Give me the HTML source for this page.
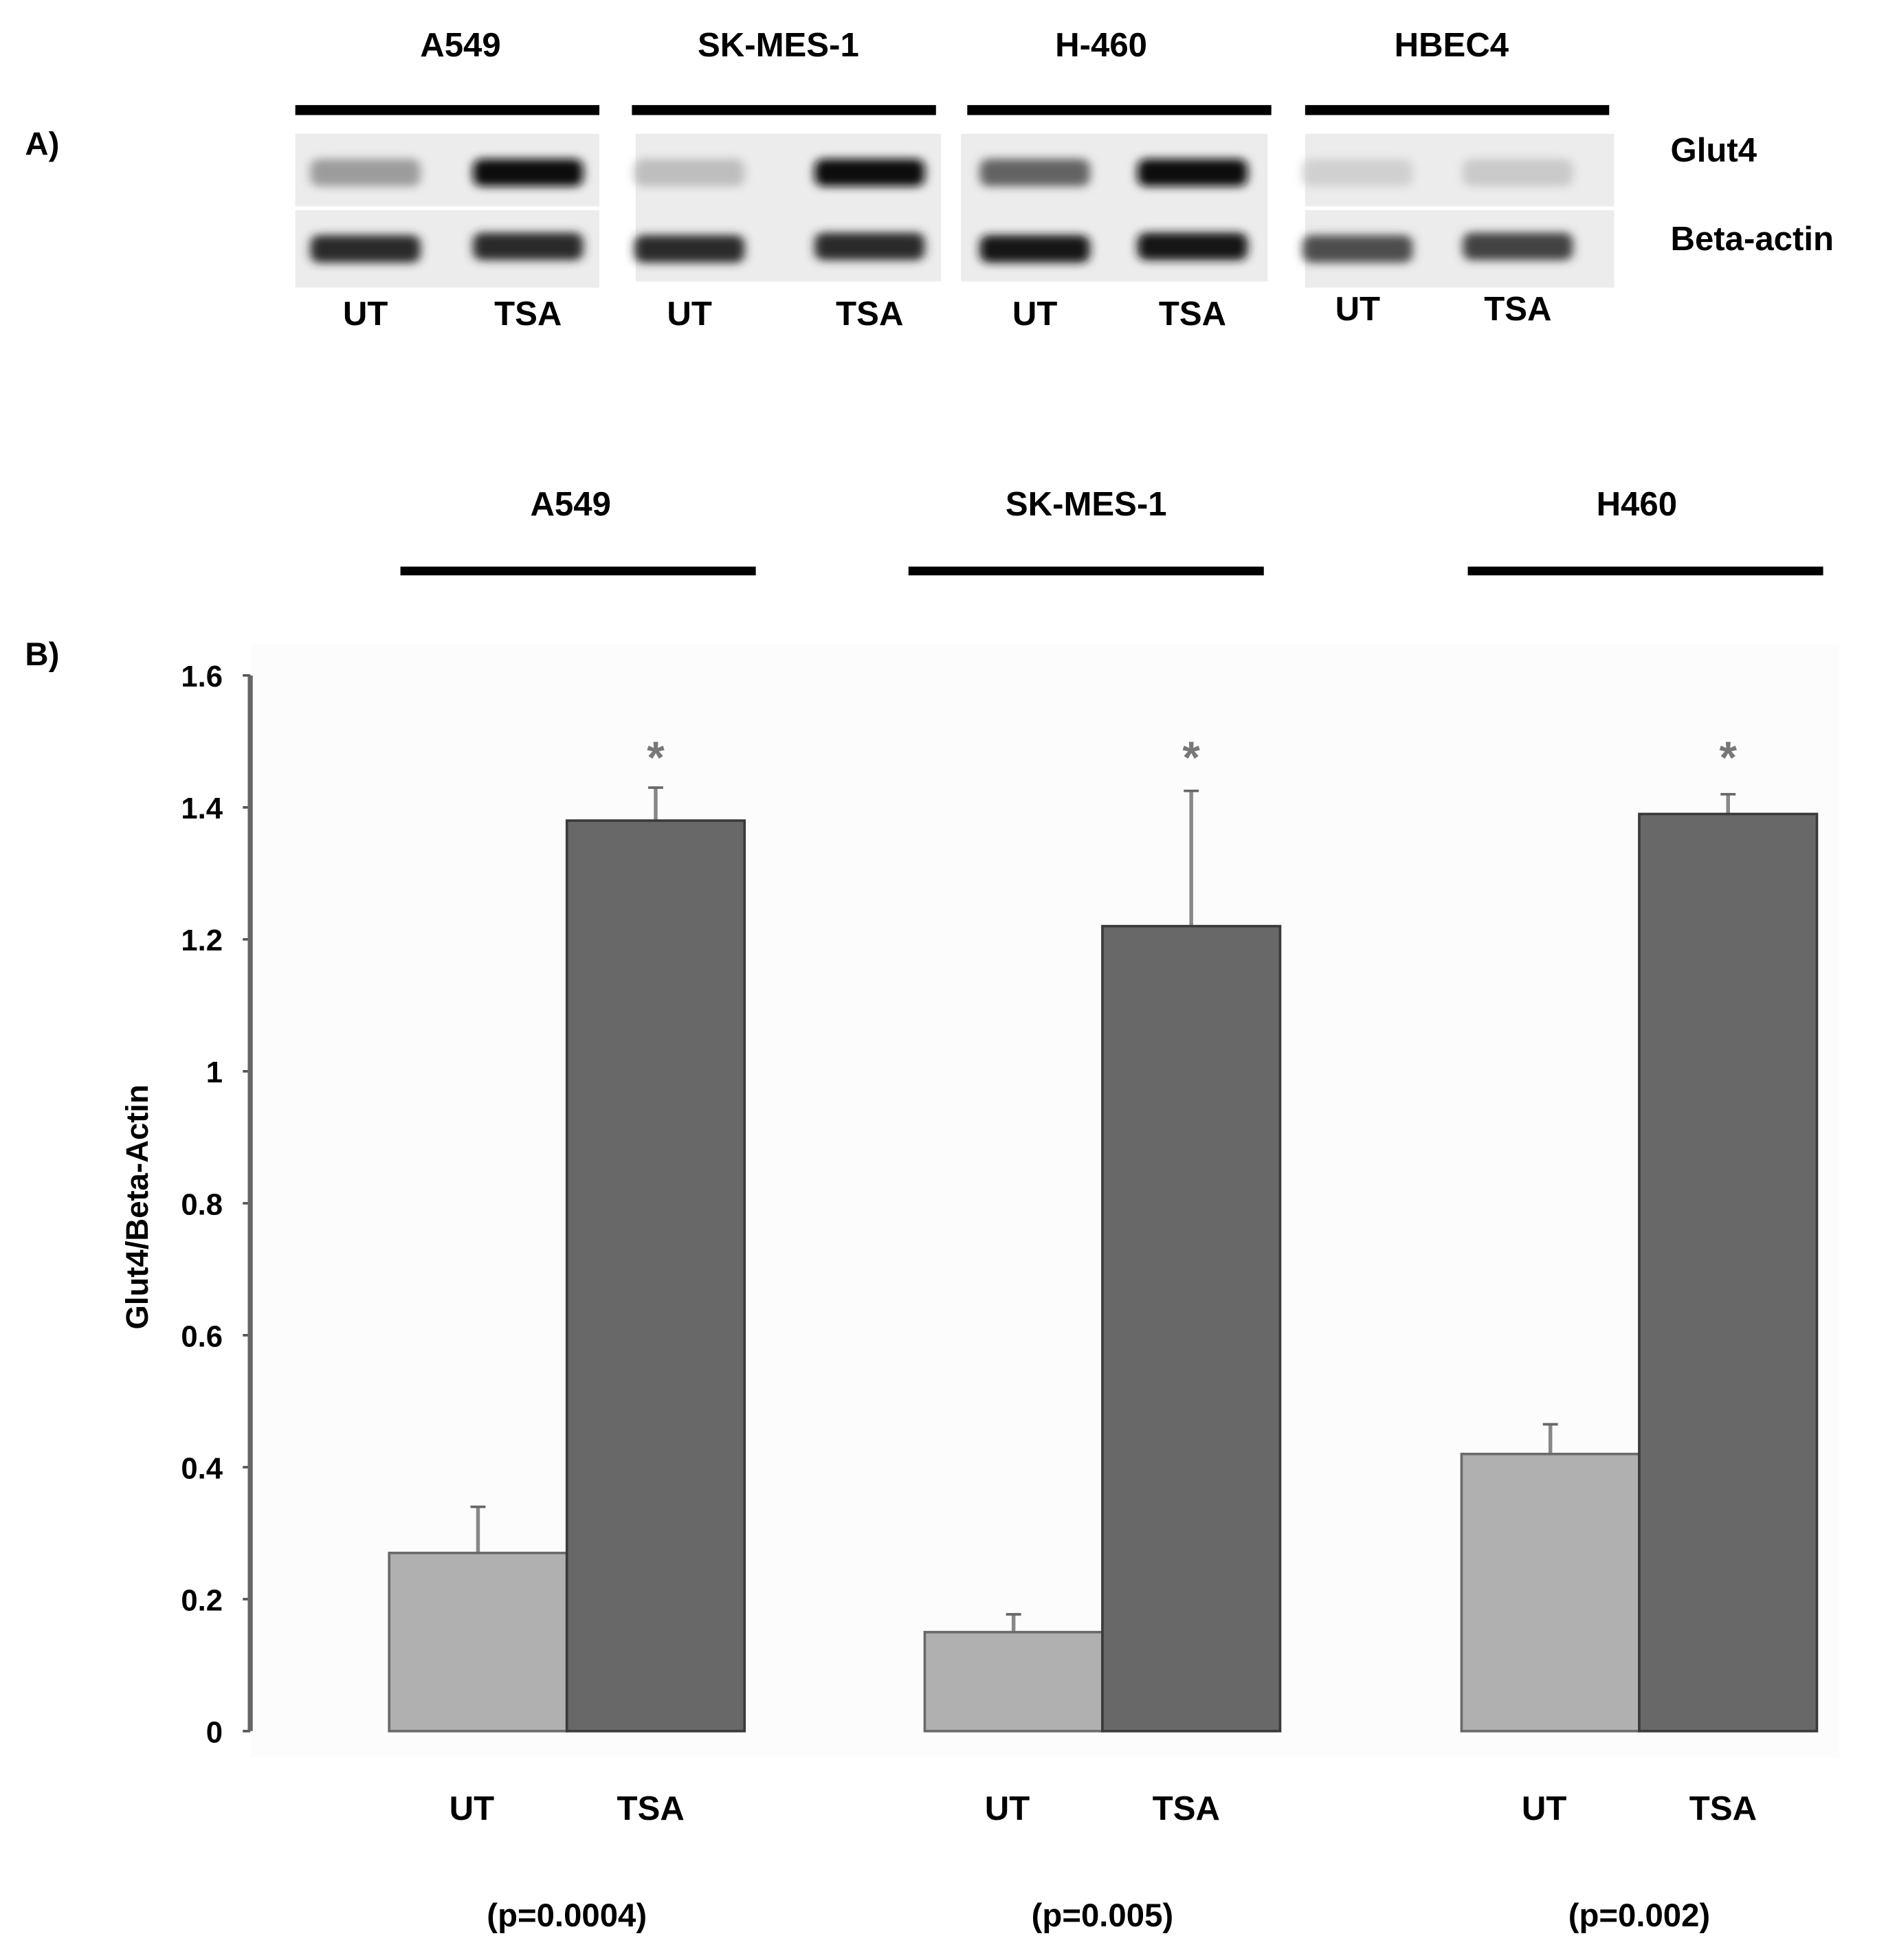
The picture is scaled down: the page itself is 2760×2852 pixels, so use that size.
<!DOCTYPE html>
<html><head><meta charset="utf-8"><style>
html,body{margin:0;padding:0;background:#fff;}
svg{display:block;}
text{font-family:"Liberation Sans",Arial,sans-serif;font-weight:bold;fill:#000;}
</style></head><body>
<svg id="fig" width="2760" height="2852" viewBox="0 0 1516 1567" preserveAspectRatio="none" xmlns="http://www.w3.org/2000/svg">
<defs>
<filter id="blur" x="-20%" y="-50%" width="140%" height="200%"><feGaussianBlur stdDeviation="4 3.5"/></filter>
</defs>
<g id="panelA"></g>
<g id="panelB"></g>
</svg>
<script>
// ---- Panel B data ----
const groups = ["A549", "SK-MES-1", "H460"];
const utValues = [0.27, 0.15, 0.42];
const tsaValues = [1.38, 1.22, 1.39];
const utErrors = [0.07, 0.027, 0.045];
const tsaErrors = [0.05, 0.205, 0.03];
const pValues = ["(p=0.0004)", "(p=0.005)", "(p=0.002)"];
const yTicks = [0, 0.2, 0.4, 0.6, 0.8, 1, 1.2, 1.4, 1.6];
// ---- Panel A data (gel band intensities 0..1) ----
const gelLines = ["A549", "SK-MES-1", "H-460", "HBEC4"];
const glut4UT = [0.35, 0.2, 0.6, 0.12];
const glut4TSA = [1.0, 1.0, 1.0, 0.15];
const actinUT = [0.85, 0.85, 0.95, 0.7];
const actinTSA = [0.85, 0.85, 0.95, 0.75];

const NS = "http://www.w3.org/2000/svg";
function mk(tag, attrs, parent, txt) {
  const e = document.createElementNS(NS, tag);
  for (const k in attrs) e.setAttribute(k, attrs[k]);
  if (txt !== undefined) e.textContent = txt;
  parent.appendChild(e);
  return e;
}
const A = document.getElementById("panelA");
const B = document.getElementById("panelB");

// Panel A
let t = mk("text", {x: 20, y: 124, "font-size": 26}, A, "A)");


const gelX = [236, 508, 768, 1043];
const gelW = [243, 244, 245, 247];
const titleX = [368, 622, 880, 1160];
const barX0 = [236, 505, 773, 1043];
const laneUT = [292, 551, 827, 1085];
const laneTSA = [422, 695, 953, 1213];
const labY = [260, 260, 260, 256];
function bandColor(v) { const g = Math.round(235 - v * 225); return `rgb(${g},${g},${g})`; }
gelLines.forEach((name, i) => {
  let tt = mk("text", {x: titleX[i], y: 45, "font-size": 27, "text-anchor": "middle"}, A, name);
  
  
  let r = mk("rect", {x: barX0[i], y: 84, width: 243, height: 8, fill: "#000"}, A);
  
  
  const split = (i === 0 || i === 3);
  const g1 = mk("rect", {x: gelX[i], y: 107, width: gelW[i], height: split ? 58 : 118, fill: "#ececec"}, A);
  
  
  if (split) {
    const g2 = mk("rect", {x: gelX[i], y: 168, width: gelW[i], height: 62, fill: "#ececec"}, A);
    
    
  }
  [[laneUT[i], glut4UT[i], 138], [laneTSA[i], glut4TSA[i], 138], [laneUT[i], actinUT[i], 199], [laneTSA[i], actinTSA[i], 197]].forEach(([cx, v, cy], j) => {
    const b = mk("rect", {x: cx - 44, y: cy - 11, width: 88, height: 22, rx: 7, fill: bandColor(v), filter: "url(#blur)"}, A);
    
    
  });
  let u = mk("text", {x: laneUT[i], y: labY[i], "font-size": 27, "text-anchor": "middle"}, A, "UT");
  
  
  let s = mk("text", {x: laneTSA[i], y: labY[i], "font-size": 27, "text-anchor": "middle"}, A, "TSA");
  
  
});
t = mk("text", {x: 1335, y: 129, "font-size": 27}, A, "Glut4");


t = mk("text", {x: 1335, y: 200, "font-size": 27}, A, "Beta-actin");



// Panel B
const yBase = 1384, yTop = 540, yMax = 1.6;
const y = v => yBase - (v / yMax) * (yBase - yTop);
const axisX = 200;
const utX = [311, 739, 1168];
const barW = 142;
const titleBX = [456, 868, 1308];
const lineBX = [320, 726, 1173];

let bg = mk("rect", {x: 200, y: 515, width: 1270, height: 890, fill: "#fcfcfc"}, B);


t = mk("text", {x: 20, y: 532, "font-size": 26}, B, "B)");



yTicks.forEach(v => {
  const tk = mk("line", {x1: axisX - 6, x2: axisX, y1: y(v), y2: y(v), stroke: "#555", "stroke-width": 2}, B);
  
  
  const lb = mk("text", {x: 178, y: y(v) + 9, "font-size": 24, "text-anchor": "end"}, B, String(v));
  
  
});
let ax = mk("line", {x1: axisX, x2: axisX, y1: yTop, y2: yBase, stroke: "#666", "stroke-width": 4}, B);


t = mk("text", {x: 0, y: 0, "font-size": 25, "text-anchor": "middle", transform: "translate(118,965) rotate(-90)"}, B, "Glut4/Beta-Actin");



groups.forEach((g, i) => {
  let tt = mk("text", {x: titleBX[i], y: 412, "font-size": 27, "text-anchor": "middle"}, B, g);
  
  
  let ln = mk("rect", {x: lineBX[i], y: 453, width: 284, height: 7, fill: "#000"}, B);
  
  
  const x1 = utX[i], x2 = utX[i] + barW;
  [[x1, utValues[i], utErrors[i]], [x2, tsaValues[i], tsaErrors[i]]].forEach(([bx, v, e]) => {
    const cx = bx + barW / 2;
    const el = mk("line", {x1: cx, x2: cx, y1: y(v), y2: y(v + e), stroke: "#888", "stroke-width": 3}, B);
    
    
    const cap = mk("line", {x1: cx - 6, x2: cx + 6, y1: y(v + e), y2: y(v + e), stroke: "#666", "stroke-width": 2}, B);
    
    
  });
  const r1 = mk("rect", {x: x1, y: y(utValues[i]), width: barW, height: yBase - y(utValues[i]), fill: "#b0b0b0", stroke: "#6a6a6a", "stroke-width": 2}, B);
  
  
  const r2 = mk("rect", {x: x2, y: y(tsaValues[i]), width: barW, height: yBase - y(tsaValues[i]), fill: "#686868", stroke: "#3a3a3a", "stroke-width": 2}, B);
  
  
  const st = mk("text", {x: x2 + barW / 2, y: 618, "font-size": 36, "text-anchor": "middle", style: "fill:#777"}, B, "*");
  
  
  let u = mk("text", {x: x1 + barW / 2 - 5, y: 1455, "font-size": 27, "text-anchor": "middle"}, B, "UT");
  
  
  let s = mk("text", {x: x2 + barW / 2 - 4, y: 1455, "font-size": 27, "text-anchor": "middle"}, B, "TSA");
  
  
  let p = mk("text", {x: x2, y: 1540, "font-size": 26, "text-anchor": "middle"}, B, pValues[i]);
  
  
});
</script>
</body></html>
